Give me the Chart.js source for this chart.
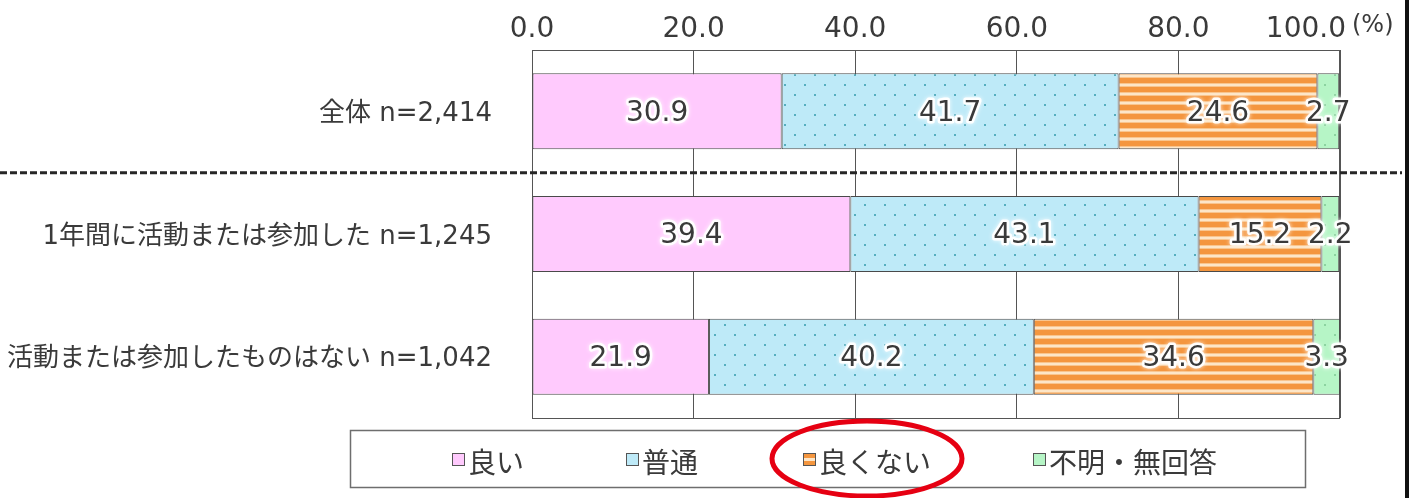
<!DOCTYPE html>
<html>
<head>
<meta charset="utf-8">
<script src="https://cdn.jsdelivr.net/npm/chart.js@4/dist/chart.umd.min.js"></script>
<style>
  html, body { margin: 0; padding: 0; background: #ffffff; }
  #c { display: block; }
</style>
</head>
<body>
<canvas id="c" width="1416" height="498"></canvas>
<script>
// ---- data ----
const categories = [
  '全体 n=2,414',
  '1年間に活動または参加した n=1,245',
  '活動または参加したものはない n=1,042'
];
const seriesNames = ['良い', '普通', '良くない', '不明・無回答'];
const good    = [30.9, 39.4, 21.9];
const normal  = [41.7, 43.1, 40.2];
const notGood = [24.6, 15.2, 34.6];
const unknown = [2.7, 2.2, 3.3];
const xTickValues = [0, 20, 40, 60, 80, 100];
const unitLabel = '(%)';

// ---- fills ----
const canvas = document.getElementById('c');
const ctx0 = canvas.getContext('2d');

function tile(w, h, paint) {
  const t = document.createElement('canvas');
  t.width = w; t.height = h;
  paint(t.getContext('2d'));
  return ctx0.createPattern(t, 'repeat');
}
const pinkFill = '#FFCAFD';
const blueFill = tile(20, 20, g => {
  g.fillStyle = '#BEEAF8'; g.fillRect(0, 0, 20, 20);
  g.fillStyle = '#55AEBF'; g.fillRect(4, 4, 2, 2); g.fillRect(14, 14, 2, 2);
});
const orangeFill = tile(8, 9, g => {
  g.fillStyle = '#F4963F'; g.fillRect(0, 0, 8, 9);
  g.fillStyle = '#F9C58E'; g.fillRect(0, 2, 8, 1); g.fillRect(0, 5, 8, 1);
  g.fillStyle = '#FDE6C8'; g.fillRect(0, 3, 8, 2);
});
const greenFill = tile(20, 20, g => {
  g.fillStyle = '#B6F5C6'; g.fillRect(0, 0, 20, 20);
  g.fillStyle = '#8CD3A0'; g.fillRect(4, 4, 2, 2); g.fillRect(14, 14, 2, 2);
});
const solidKeys = ['#FFCAFD', '#BEEAF8', '#F4963F', '#B6F5C6'];

const latinFont = '"DejaVu Sans", "Noto Sans CJK JP", sans-serif';
const cjkFont = '"Noto Sans CJK JP", "DejaVu Sans", sans-serif';
const inkColor = '#3a3a3a';
const gridColor = '#555555';

function barSet(i, data, fill) {
  return {
    label: seriesNames[i],
    data: data,
    backgroundColor: fill,
    borderColor: '#4a4a4a',
    borderWidth: 1,
    borderSkipped: false,
    barPercentage: 0.62,
    categoryPercentage: 1.0
  };
}

// ---- decorations: frame, value labels, divider, legend ----
const decorations = {
  id: 'decorations',
  beforeDraw(chart) {
    const xs = chart.scales.x;
    const ys = chart.scales.y;
    try {
      // last x tick label sits flush to the right of its gridline so "(%)" fits beside it
      const items = xs.getLabelItems();
      const last = items[items.length - 1];
      if (last && last.options && last.options.translation) {
        last.options.textAlign = 'right';
        last.options.translation = [xs.getPixelForValue(100) + 6, last.options.translation[1]];
      }
      // nudge category labels onto the optical centre of their bars
      ys.getLabelItems().forEach(it => {
        if (it.options && it.options.translation) {
          it.options.translation = [it.options.translation[0], it.options.translation[1] + 3];
        }
      });
    } catch (e) {}
  },
  beforeDatasetsDraw(chart) {
    const a = chart.chartArea;
    const c = chart.ctx;
    c.save();
    c.strokeStyle = gridColor;
    c.lineWidth = 1;
    c.strokeRect(Math.round(a.left) + 0.5, Math.round(a.top) + 0.5,
                 Math.round(a.right - a.left) - 1, Math.round(a.bottom - a.top));
    c.restore();
  },
  afterDatasetsDraw(chart) {
    const c = chart.ctx;
    c.save();
    c.font = '28px ' + latinFont;
    c.textAlign = 'center';
    c.textBaseline = 'middle';
    c.lineJoin = 'round';
    chart.data.datasets.forEach((ds, di) => {
      const meta = chart.getDatasetMeta(di);
      meta.data.forEach((bar, i) => {
        const txt = ds.data[i].toFixed(1);
        const x = (bar.x + bar.base) / 2;
        const y = bar.y + 2;
        c.shadowColor = 'rgba(255,255,255,0.9)';
        c.shadowBlur = 4;
        c.strokeStyle = 'rgba(255,255,255,0.95)';
        c.lineWidth = 5;
        c.strokeText(txt, x, y);
        c.shadowBlur = 0;
        c.fillStyle = inkColor;
        c.fillText(txt, x, y);
      });
    });
    c.restore();
  },
  afterDraw(chart) {
    const c = chart.ctx;
    const a = chart.chartArea;
    const ys = chart.scales.y;
    c.save();

    // unit next to the top axis
    c.font = '24px ' + latinFont;
    c.fillStyle = inkColor;
    c.textAlign = 'left';
    c.textBaseline = 'middle';
    c.fillText(unitLabel, a.right + 12, 26);

    // dashed divider between the total row and the breakdown rows
    const yDiv = (ys.getPixelForValue(0) + ys.getPixelForValue(1)) / 2;
    c.strokeStyle = '#262626';
    c.lineWidth = 3;
    c.setLineDash([7, 3]);
    c.beginPath();
    c.moveTo(0, yDiv);
    c.lineTo(1402, yDiv);
    c.stroke();
    c.setLineDash([]);

    // legend box
    c.strokeStyle = '#6e6e6e';
    c.lineWidth = 1.5;
    c.strokeRect(350.5, 430.5, 955, 57);
    const keyX = [452, 626, 803, 1033];
    c.font = '28px ' + cjkFont;
    c.textBaseline = 'middle';
    chart.data.datasets.forEach((ds, i) => {
      const x = keyX[i];
      c.fillStyle = solidKeys[i];
      c.fillRect(x, 453, 13, 13);
      if (i === 2) { c.fillStyle = '#FDE6C8'; c.fillRect(x, 458, 13, 3); }
      c.strokeStyle = '#555';
      c.lineWidth = 1;
      c.strokeRect(x + 0.5, 453.5, 12, 12);
      c.fillStyle = inkColor;
      c.fillText(ds.label, x + 16, 462);
    });

    // highlight ring
    c.strokeStyle = '#E60012';
    c.lineWidth = 5;
    c.beginPath();
    c.ellipse(867, 458.5, 95, 37.5, 0, 0, Math.PI * 2);
    c.stroke();

    // right frame edge
    c.fillStyle = '#111';
    c.fillRect(1405, 0, 4, 498);
    c.restore();
  }
};

new Chart(canvas, {
  type: 'bar',
  data: {
    labels: categories,
    datasets: [
      barSet(0, good, pinkFill),
      barSet(1, normal, blueFill),
      barSet(2, notGood, orangeFill),
      barSet(3, unknown, greenFill)
    ]
  },
  options: {
    indexAxis: 'y',
    responsive: false,
    animation: false,
    devicePixelRatio: 1,
    layout: { padding: { left: 0, right: 76, top: 0, bottom: 80 } },
    plugins: {
      legend: { display: false },
      tooltip: { enabled: false }
    },
    scales: {
      x: {
        position: 'top',
        stacked: true,
        min: 0,
        max: 100,
        afterBuildTicks(scale) { scale.ticks = xTickValues.map(v => ({ value: v })); },
        afterFit(scale) { scale.height = 50; },
        grid: { color: gridColor, lineWidth: 1, drawTicks: false },
        border: { display: true, color: gridColor, width: 1 },
        ticks: {
          padding: 3,
          color: inkColor,
          font: { family: latinFont, size: 28 },
          maxRotation: 0,
          autoSkip: false,
          callback: v => Number(v).toFixed(1)
        }
      },
      y: {
        stacked: true,
        afterFit(scale) {
          scale.width = 532;
          scale.paddingTop = 0;
          scale.paddingBottom = 0;
        },
        grid: { display: false, drawTicks: false },
        border: { display: false },
        ticks: {
          padding: 40,
          color: inkColor,
          font: { family: latinFont, size: 26 }
        }
      }
    }
  },
  plugins: [decorations]
});
</script>
</body>
</html>
